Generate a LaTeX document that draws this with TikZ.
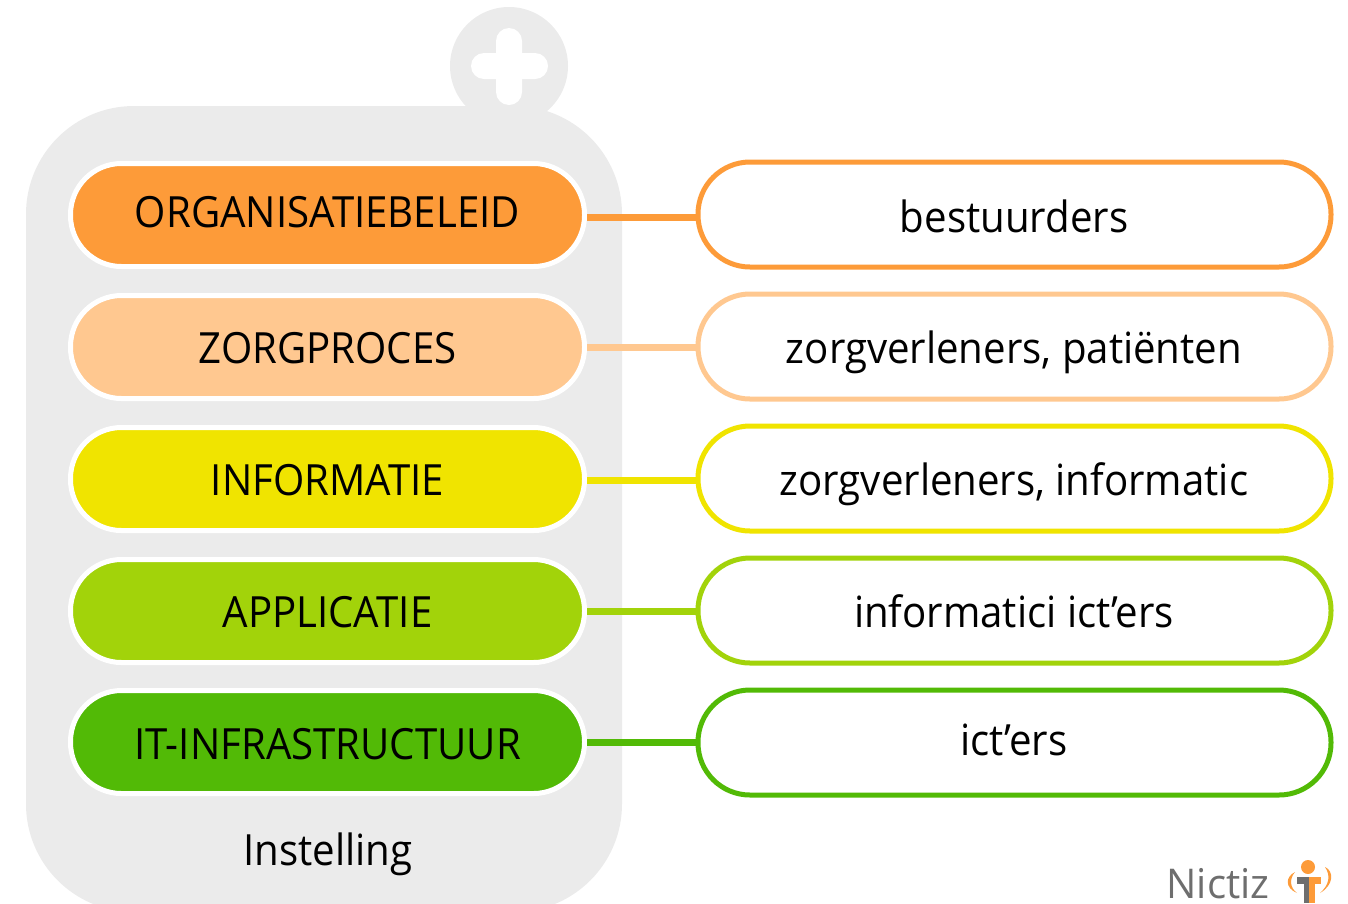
\documentclass[tikz,border=0pt]{standalone}
\usepackage{fontspec}
\setmainfont{Open Sans}
\definecolor{bodygray}{HTML}{EBEBEB}
\definecolor{c1}{HTML}{FD9B39}
\definecolor{c2}{HTML}{FFC890}
\definecolor{c3}{HTML}{F0E400}
\definecolor{c4}{HTML}{A2D30A}
\definecolor{c5}{HTML}{52BA06}
\definecolor{logogray}{HTML}{6E6E6E}
\tikzset{
  layerpill/.style={rounded corners=51pt,minimum width=514pt,minimum height=103pt,draw=white,line width=5pt,inner sep=0pt},
  rolepill/.style={rounded corners=52pt,minimum width=633pt,minimum height=105pt,fill=white,line width=5pt,inner sep=0pt},
  label/.style={inner sep=0pt,anchor=base,font=\fontsize{43}{43}\selectfont,xscale=.935,text=black},
  link/.style={line width=7pt}
}
\begin{document}
\begin{tikzpicture}[x=1pt,y=-1pt]
\useasboundingbox (0,0) rectangle (1348,903);
\clip (0,0) rectangle (1348,903);
\fill[bodygray] (509,66) circle (59pt);
\fill[bodygray,rounded corners=108pt] (26,106) rectangle (622,912);
\fill[white,rounded corners=13pt] (471,53) rectangle (548,79);
\fill[white,rounded corners=13pt] (496,28) rectangle (522,105);

\node[layerpill,fill=c1] (l1) at (327.5,215) {};
\node[layerpill,fill=c2] (l2) at (327.5,347) {};
\node[layerpill,fill=c3] (l3) at (327.5,479) {};
\node[layerpill,fill=c4] (l4) at (327.5,611) {};
\node[layerpill,fill=c5] (l5) at (327.5,742) {};
\node[label] (t1) at (327.5,227) {ORGANISATIEBELEID};
\node[label] (t2) at (327.5,363) {ZORGPROCES};
\node[label] (t3) at (327.5,495) {INFORMATIE};
\node[label] (t4) at (327.5,627) {APPLICATIE};
\node[label] (t5) at (327.5,759) {IT-INFRASTRUCTUUR};

\node[rolepill,draw=c1] (r1) at (1014.5,214.5) {};
\node[rolepill,draw=c2] (r2) at (1014.5,346.5) {};
\node[rolepill,draw=c3] (r3) at (1014.5,478.5) {};
\node[rolepill,draw=c4] (r4) at (1014.5,610.5) {};
\node[rolepill,draw=c5] (r5) at (1014.5,742.5) {};
\node[label] (u1) at (1014,232) {bestuurders};
\node[label] (u2) at (1014,363) {zorgverleners, patiënten};
\node[label] (u3) at (1014,495) {zorgverleners, informatic};
\node[label] (u4) at (1014,627) {informatici ict’ers};
\node[label] (u5) at (1014,755) {ict’ers};

\draw[link,c1] ([yshift=-2pt]l1.east) -- ([yshift=-2pt]l1.east -| r1.west);
\draw[link,c2] (l2.east) -- (l2.east -| r2.west);
\draw[link,c3] ([yshift=-1pt]l3.east) -- ([yshift=-1pt]l3.east -| r3.west);
\draw[link,c4] (l4.east) -- (l4.east -| r4.west);
\draw[link,c5] (l5.east) -- (l5.east -| r5.west);

\node[label] (inst) at (328,865) {Instelling};
\node[label,xscale=1.05,text=logogray,font=\fontsize{41}{41}\selectfont] (nictiz) at (1218,898) {Nictiz};

% logo
\fill[c1] (1308,867) circle (7pt);
\fill[logogray] (1297,877) rectangle (1309,884);
\fill[c1] (1309,877) rectangle (1321,884);
\fill[logogray] (1304,884) rectangle (1309,903);
\fill[c1] (1309,884) rectangle (1315,903);
\fill[c1] (1295,872) .. controls (1285,877) and (1285,888) .. (1297,893) .. controls (1290,888) and (1289,879) .. (1295,872) -- cycle;
\fill[c1] (1325,867) .. controls (1334,871) and (1334,885) .. (1320,893) .. controls (1329,885) and (1331,876) .. (1325,867) -- cycle;
\end{tikzpicture}
\end{document}
